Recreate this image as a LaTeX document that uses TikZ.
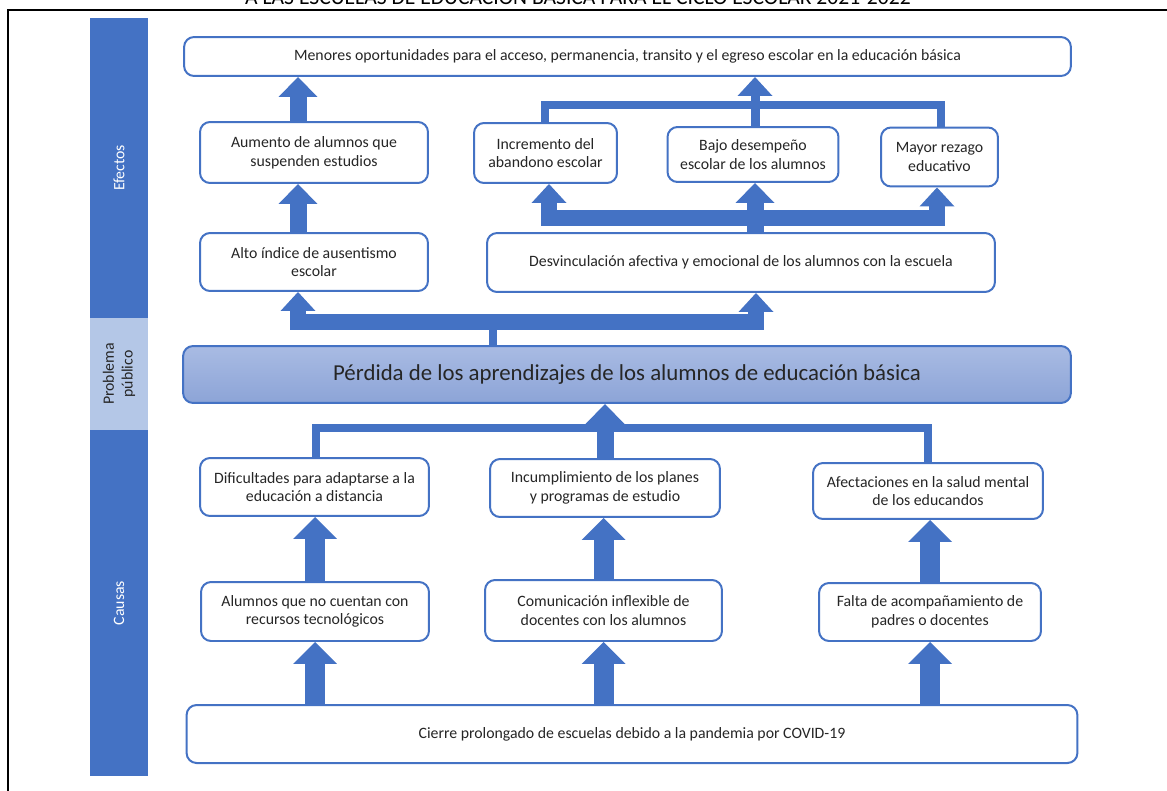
\documentclass[tikz,border=0pt]{standalone}
\usepackage{fontspec}
\setmainfont{Carlito}
\usetikzlibrary{arrows.meta}
\definecolor{azul}{HTML}{4472C4}
\definecolor{celeste}{HTML}{B4C7E7}
\definecolor{probtop}{HTML}{A9BBE3}
\definecolor{probbot}{HTML}{8CA4D7}
\definecolor{texto}{HTML}{262626}
\tikzset{
    arbol/.style={
        x=0.02cm,y=-0.02cm,
        box/.append style={draw=azul,line width=0.04cm,rounded corners=0.2cm,fill=white,align=center,inner sep=0pt,text=texto,font=\fontsize{9}{10.6}\selectfont},
        prob/.append style={draw=azul,line width=0.04cm,rounded corners=0.2cm,top color=probtop,bottom color=probbot,align=center,inner sep=0pt,text=texto,font=\fontsize{13}{15}\selectfont},
        side/.append style={rotate=90,align=center,font=\fontsize{9}{10.6}\selectfont},
        link/.append style={draw=azul,line width=0.17cm,line join=miter},
        bigup/.append style={draw=azul,line width=0.4cm,-{Triangle[width=0.88cm,length=0.44cm,line width=0pt]}},
        midup/.append style={draw=azul,line width=0.34cm,-{Triangle[width=0.78cm,length=0.4cm,line width=0pt]}},
        slimup/.append style={draw=azul,line width=0.18cm,-{Triangle[width=0.7cm,length=0.38cm,line width=0pt]}},
        forkup/.append style={draw=azul,line width=0.32cm,line join=miter,{Triangle[width=0.7cm,length=0.38cm,line width=0pt]}-{Triangle[width=0.7cm,length=0.38cm,line width=0pt]}}
    }
}

\begin{document}
\begin{tikzpicture}[arbol]
    \useasboundingbox (0,0) rectangle (1167,791);
    \node[anchor=base,font=\fontsize{12.3}{14}\selectfont] (hd) at (578,5) {A LAS ESCUELAS DE EDUCACIÓN BÁSICA PARA EL CICLO ESCOLAR 2021-2022};
    \draw[line width=0.04cm] (8,791) -- (8,10) -- (1167,10);

    \fill[azul] (90,18) rectangle (148,318);
    \fill[celeste] (90,318) rectangle (148,430);
    \fill[azul] (90,430) rectangle (148,776);
    \node[side,text=white] (ef) at (119,168) {Efectos};
    \node[side,text=texto] (pb) at (119,374) {Problema\\público};
    \node[side,text=white] (ca) at (119,603) {Causas};

    \node[box,minimum width=17.74cm,minimum height=0.78cm] (me) at (627.5,56.5) {Menores oportunidades para el acceso, permanencia, transito y el egreso escolar en la educación básica};
    \node[box,minimum width=4.56cm,minimum height=1.22cm] (au) at (314,152.5) {Aumento de alumnos que\\suspenden estudios};
    \node[box,minimum width=2.86cm,minimum height=1.2cm] (in) at (545.5,153) {Incremento del\\abandono escolar};
    \node[box,minimum width=3.42cm,minimum height=1.1cm] (bd) at (753,154.5) {Bajo desempeño\\escolar de los alumnos};
    \node[box,minimum width=2.34cm,minimum height=1.18cm] (mr) at (939.5,157) {Mayor rezago\\educativo};
    \node[box,minimum width=4.56cm,minimum height=1.16cm] (al) at (314,262) {Alto índice de ausentismo\\escolar};
    \node[box,minimum width=10.16cm,minimum height=1.18cm] (dv) at (741,262.5) {Desvinculación afectiva y emocional de los alumnos con la escuela};

    \node[prob,minimum width=17.76cm,minimum height=1.14cm] (pp) at (627,374.5) {Pérdida de los aprendizajes de los alumnos de educación básica};

    \node[box,minimum width=4.58cm,minimum height=1.16cm] (di) at (314.5,487) {Dificultades para adaptarse a la\\educación a distancia};
    \node[box,minimum width=4.6cm,minimum height=1.16cm] (ic) at (605,488) {Incumplimiento de los planes\\y programas de estudio};
    \node[box,minimum width=4.6cm,minimum height=1.12cm] (af) at (928,491) {Afectaciones en la salud mental\\de los educandos};
    \node[box,minimum width=4.56cm,minimum height=1.18cm] (an) at (315,611.5) {Alumnos que no cuentan con\\recursos tecnológicos};
    \node[box,minimum width=4.74cm,minimum height=1.22cm] (co) at (603.5,610.5) {Comunicación inflexible de\\docentes con los alumnos};
    \node[box,minimum width=4.44cm,minimum height=1.16cm] (fa) at (930,612) {Falta de acompañamiento de\\padres o docentes};
    \node[box,minimum width=17.82cm,minimum height=1.16cm] (ci) at (632,734) {Cierre prolongado de escuelas debido a la pandemia por COVID-19};

    \coordinate (k0) at (493,322);
    \coordinate (k1) at (298,322);
    \coordinate (k2) at (756,322);
    \coordinate (k3) at (549,218);
    \coordinate (k4) at (937,218);
    \coordinate (k5) at (755,218);
    \coordinate (k6) at (545,105);
    \coordinate (k7) at (941,105);
    \coordinate (k8) at (316,428);
    \coordinate (k9) at (928,428);

    \draw[link] (pp.north -| k0) -- (k0);
    \draw[forkup] (al.south -| k1) -- (k1) -- (k2) -- (dv.south -| k2);
    \draw[midup] (al.north -| k1) -- (au.south -| k1);
    \draw[midup] (au.north -| k1) -- (me.south -| k1);
    \draw[forkup] (in.south -| k3) -- (k3) -- (k4) -- (mr.south -| k4);
    \draw[midup] (dv.north -| k5) -- (bd.south -| k5);
    \draw[link] (in.north -| k6) -- (k6) -- (k7) -- (mr.north -| k7);
    \draw[slimup] (bd.north -| k5) -- (me.south -| k5);

    \draw[link] (di.north -| k8) -- (k8) -- (k9) -- (af.north -| k9);
    \draw[midup] (ic.north) -- (pp.south -| ic.north);
    \draw[bigup] (an.north) -- (di.south -| an.north);
    \draw[bigup] (co.north) -- (ic.south -| co.north);
    \draw[bigup] (fa.north) -- (af.south -| fa.north);
    \draw[bigup] (ci.north -| an.north) -- (an.south);
    \draw[bigup] (ci.north -| co.north) -- (co.south);
    \draw[bigup] (ci.north -| fa.north) -- (fa.south);
\end{tikzpicture}
\end{document}
